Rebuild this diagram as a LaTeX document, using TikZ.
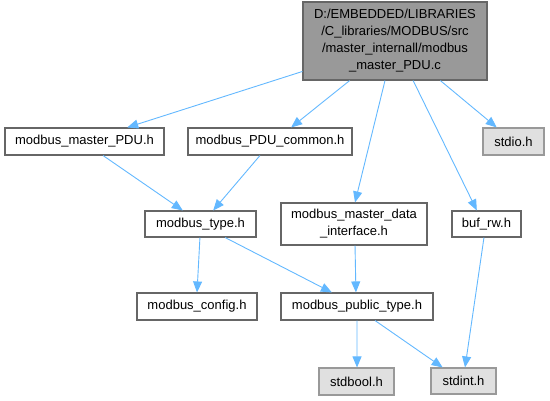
\documentclass[tikz,border=0pt]{standalone}
\usepackage{fontspec}
\setmainfont{Liberation Sans}
\usetikzlibrary{arrows.meta,calc}
\definecolor{gfourty}{HTML}{666666}
\definecolor{gsixty}{HTML}{999999}
\definecolor{gext}{HTML}{E0E0E0}
\definecolor{edgeblue}{HTML}{63B8FF}
\begin{document}
\begin{tikzpicture}[x=1pt,y=-1pt,
  box/.style={draw=gfourty, fill=white, line width=1.1pt, inner sep=0pt, rectangle,
    font=\fontsize{13}{17}\selectfont, align=center},
  topbox/.style={box, fill=gsixty},
  extbox/.style={box, draw=gsixty, fill=gext},
  edge/.style={draw=edgeblue, line width=0.9pt, -{Triangle[length=11pt,width=9pt]}}]
\useasboundingbox (0,0) rectangle (550,400);
\node[topbox, minimum width=184pt, minimum height=78pt] (top) at (395,41)
  {D:/EMBEDDED/LIBRARIES\\/C\_libraries/MODBUS/src\\/master\_internall/modbus\\\_master\_PDU.c};
\node[box, minimum width=159pt, minimum height=27pt] (mpdu) at (84.5,141.5) {modbus\_master\_PDU.h};
\node[box, minimum width=164pt, minimum height=27pt] (common) at (270,141.5) {modbus\_PDU\_common.h};
\node[extbox, minimum width=61pt, minimum height=27pt] (stdio) at (513.5,141.5) {stdio.h};
\node[box, minimum width=111pt, minimum height=26pt] (type) at (200.5,224) {modbus\_type.h};
\node[box, minimum width=146pt, minimum height=42pt] (data) at (354,224) {modbus\_master\_data\\\_interface.h};
\node[box, minimum width=69pt, minimum height=26pt] (buf) at (486.5,224) {buf\_rw.h};
\node[box, minimum width=120pt, minimum height=27pt] (config) at (197,306.5) {modbus\_config.h};
\node[box, minimum width=152pt, minimum height=27pt] (public) at (357,306.5) {modbus\_public\_type.h};
\node[extbox, minimum width=75pt, minimum height=27pt] (stdbool) at (356.5,381.5) {stdbool.h};
\node[extbox, minimum width=65pt, minimum height=26pt] (stdint) at (463.5,381) {stdint.h};

\draw[edge] ($(top.north west)!.885!(top.south west)$) -- ($(mpdu.north west)!.767!(mpdu.north east)$);
\draw[edge] ($(top.south west)!.255!(top.south east)$) -- ($(common.north west)!.628!(common.north east)$);
\draw[edge] ($(top.south west)!.446!(top.south east)$) -- ($(data.north west)!.507!(data.north east)$);
\draw[edge] ($(top.south west)!.598!(top.south east)$) -- ($(buf.north west)!.362!(buf.north east)$);
\draw[edge] ($(top.south west)!.745!(top.south east)$) -- ($(stdio.north west)!.23!(stdio.north east)$);
\draw[edge] ($(mpdu.south west)!.616!(mpdu.south east)$) -- ($(type.north west)!.342!(type.north east)$);
\draw[edge] ($(common.south west)!.439!(common.south east)$) -- ($(type.north west)!.613!(type.north east)$);
\draw[edge] ($(type.south west)!.495!(type.south east)$) -- ($(config.north west)!.5!(config.north east)$);
\draw[edge] ($(type.south west)!.72!(type.south east)$) -- ($(public.north west)!.336!(public.north east)$);
\draw[edge] ($(data.south west)!.507!(data.south east)$) -- ($(public.north west)!.493!(public.north east)$);
\draw[edge] ($(public.south west)!.5!(public.south east)$) -- ($(stdbool.north west)!.507!(stdbool.north east)$);
\draw[edge] ($(public.south west)!.618!(public.south east)$) -- ($(stdint.north west)!.185!(stdint.north east)$);
\draw[edge] ($(buf.south west)!.464!(buf.south east)$) -- ($(stdint.north west)!.523!(stdint.north east)$);
\end{tikzpicture}
\end{document}
